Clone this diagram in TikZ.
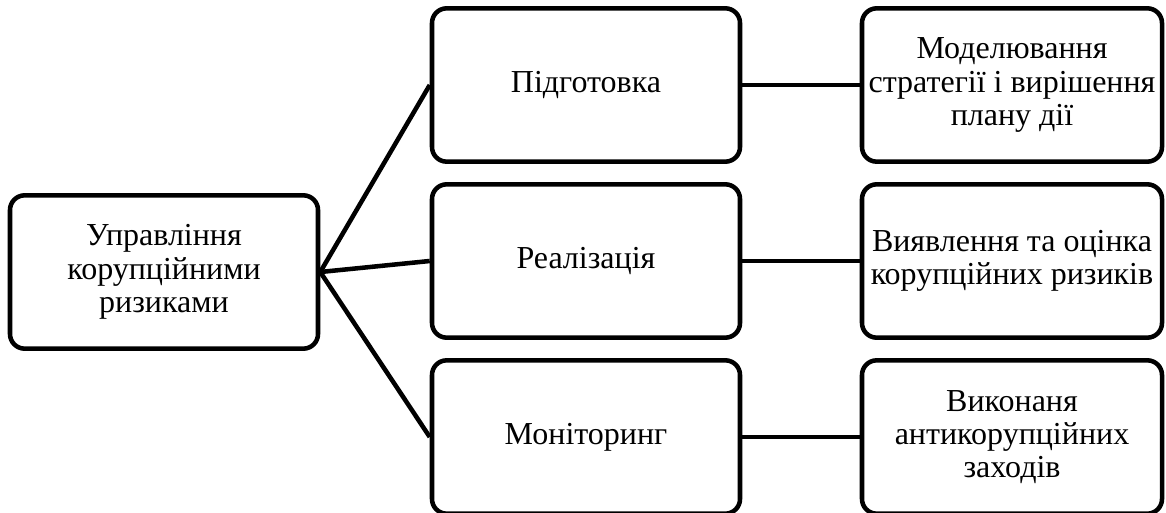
\documentclass[tikz,border=0pt]{standalone}
\usepackage{fontspec}
\setmainfont{Liberation Serif}
\usetikzlibrary{positioning}

\tikzset{
  box/.style={draw=black,line width=3.4pt,rounded corners=11pt,fill=white,
    minimum width=231pt,minimum height=115pt,align=center,inner sep=2pt,
    font=\fontsize{24}{25}\selectfont},
  sidebox/.style={box,minimum width=225pt},
  link/.style={line width=3.4pt}
}

\begin{document}
\begin{tikzpicture}[x=0.75pt,y=-0.75pt]
  \useasboundingbox (0,0) rectangle (1166,513);
  % Coordinates
  \coordinate (L) at (164,272);
  \coordinate (P) at (586,85);
  \coordinate (R) at (586,261);
  \coordinate (M) at (586,437);
  % Boxes
  \node[box] (upr) at (L) {Управління\\корупційними\\ризиками};
  \node[box] (pidg) at (P) {Підготовка};
  \node[box] (real) at (R) {Реалізація};
  \node[box] (monit) at (M) {Моніторинг};
  \node[sidebox] (model) at (1012,85) {Моделювання\\стратегії і вирішення\\плану дії};
  \node[sidebox] (vyjav) at (1012,261) {Виявлення та оцінка\\корупційних ризиків};
  \node[sidebox] (vykon) at (1012,437) {Виконаня\\антикорупційних\\заходів};
  % Connectors
  \foreach \B in {pidg, real, monit} {
    \draw[link] (upr.east) -- (\B.west);
  }
  \draw[link] (pidg) -- (model);
  \draw[link] (real) -- (vyjav);
  \draw[link] (monit) -- (vykon);
\end{tikzpicture}
\end{document}
